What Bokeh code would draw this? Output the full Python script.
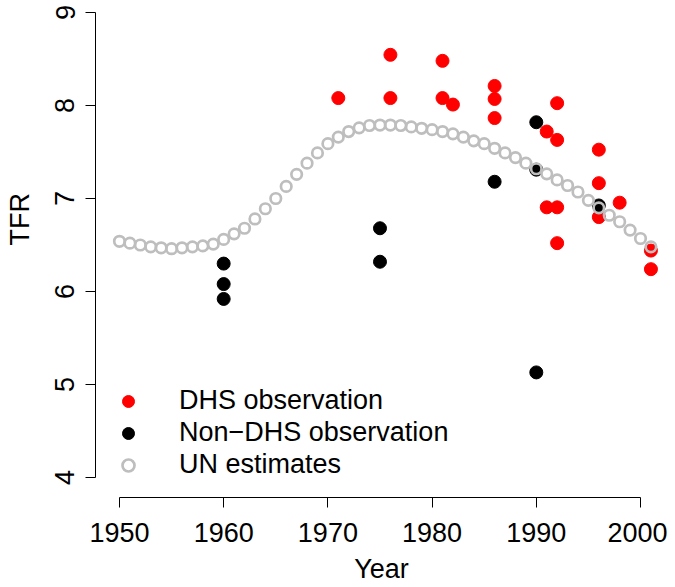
from bokeh.plotting import figure
from bokeh.models import Range1d, FixedTicker, Legend, LegendItem
from bokeh.embed import file_html
from bokeh.resources import INLINE

# ---- data ----
un_years = list(range(1950, 2002))
un_tfr = [6.54, 6.52, 6.50, 6.48, 6.47, 6.46, 6.47, 6.48, 6.49, 6.51,
          6.56, 6.62, 6.68, 6.78, 6.89, 7.00, 7.13, 7.26, 7.38, 7.49,
          7.59, 7.66, 7.72, 7.76, 7.785, 7.79, 7.79, 7.785, 7.77, 7.755,
          7.74, 7.72, 7.695, 7.66, 7.62, 7.59, 7.54, 7.49, 7.44, 7.38,
          7.32, 7.265, 7.20, 7.14, 7.07, 6.98, 6.90, 6.82, 6.75, 6.66,
          6.57, 6.48]

dhs_year = [1971, 1976, 1976, 1981, 1981, 1982, 1986, 1986, 1986, 1991, 1991,
            1992, 1992, 1992, 1992, 1996, 1996, 1996, 1998, 2001, 2001]
dhs_tfr = [8.08, 8.545, 8.08, 8.48, 8.08, 8.01, 8.21, 8.07, 7.865, 7.72, 6.905,
           8.025, 7.63, 6.905, 6.52, 7.525, 7.165, 6.80, 6.955, 6.44, 6.24]

non_year = [1960, 1960, 1960, 1975, 1975, 1986, 1990, 1990, 1990, 1996]
non_tfr = [6.30, 6.08, 5.92, 6.68, 6.32, 7.18, 7.82, 7.31, 5.13, 6.925]

x_ticks = [1950, 1960, 1970, 1980, 1990, 2000]
y_ticks = [4, 5, 6, 7, 8, 9]
legend_labels = ["DHS observation", "Non\u2212DHS observation", "UN estimates"]
x_title = "Year"
y_title = "TFR"

FONT = "Liberation Sans"
FS = "27px"

p = figure(width=667, height=587, output_backend="svg", toolbar_location=None,
           x_range=Range1d(1947.70, 2002.59), y_range=Range1d(3.785, 9.129),
           min_border_left=95, min_border_right=0, min_border_top=0,
           min_border_bottom=90)
p.outline_line_color = None
p.grid.visible = False
p.background_fill_color = "white"
p.border_fill_color = "white"

for ax in (p.xaxis[0], p.yaxis[0]):
    ax.axis_line_color = "black"
    ax.axis_line_width = 1
    ax.major_tick_line_color = "black"
    ax.major_tick_in = 0
    ax.major_tick_out = 10
    ax.minor_tick_line_color = None
    ax.major_label_text_font = FONT
    ax.major_label_text_font_size = FS
    ax.major_label_text_color = "black"
    ax.axis_label_text_font = FONT
    ax.axis_label_text_font_size = FS
    ax.axis_label_text_font_style = "normal"
    ax.axis_label_text_color = "black"

p.xaxis[0].ticker = FixedTicker(ticks=x_ticks)
p.xaxis[0].bounds = (1950, 2000)
p.xaxis[0].axis_label = x_title
p.xaxis[0].major_label_standoff = 15
p.xaxis[0].axis_label_standoff = 9

p.yaxis[0].ticker = FixedTicker(ticks=y_ticks)
p.yaxis[0].bounds = (4, 9)
p.yaxis[0].major_label_orientation = "vertical"
p.yaxis[0].major_label_standoff = 11
# leading em/thin spaces lift the centred title to where the reference has it
p.yaxis[0].axis_label = "\u2003\u2003\u2009" + y_title
p.yaxis[0].axis_label_standoff = 18

r_dhs = p.scatter(dhs_year, dhs_tfr, marker="circle", size=13,
                  fill_color="#FF0000", line_color="#FF0000", line_width=1)
r_non = p.scatter(non_year, non_tfr, marker="circle", size=13,
                  fill_color="black", line_color="black", line_width=1)
r_un = p.scatter(un_years, un_tfr, marker="circle", size=10.5,
                 fill_color=None, line_color="#BEBEBE", line_width=2.7)

legend = Legend(items=[LegendItem(label=legend_labels[0], renderers=[r_dhs]),
                       LegendItem(label=legend_labels[1], renderers=[r_non]),
                       LegendItem(label=legend_labels[2], renderers=[r_un])],
                location=(18, 17), orientation="vertical",
                glyph_width=30, glyph_height=30, label_height=30,
                label_standoff=36, spacing=1, padding=0, margin=0,
                label_text_font=FONT, label_text_font_size=FS,
                label_text_color="black",
                border_line_color=None, background_fill_alpha=0)
p.add_layout(legend, "center")

open("out.html", "w").write(file_html(p, INLINE))
